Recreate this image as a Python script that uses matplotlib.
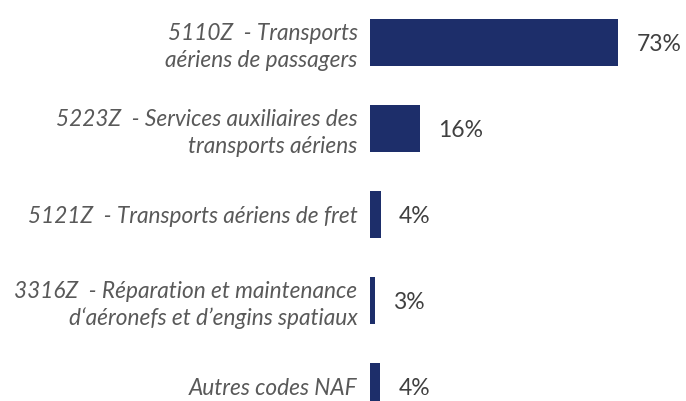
import matplotlib
matplotlib.use("Agg")
import matplotlib.pyplot as plt

# categories (top to bottom) and values
categories = [
    "5110Z  - Transports\naériens de passagers",
    "5223Z  - Services auxiliaires des\ntransports aériens",
    "5121Z  - Transports aériens de fret",
    "3316Z  - Réparation et maintenance\nd\u2018aéronefs et d\u2019engins spatiaux",
    "Autres codes NAF",
]
bar_values = [73, 14.7, 3.2, 1.5, 3.0]
value_labels = ["73%", "16%", "4%", "3%", "4%"]

BAR_COLOR = "#1d2e6a"
LABEL_COLOR = "#595959"
VALUE_COLOR = "#404040"

plt.rcParams["font.family"] = ["Lato", "DejaVu Sans"]

fig = plt.figure(figsize=(6.86, 4.01), dpi=100)
ax = fig.add_axes([370 / 686, 0, 1 - 370 / 686, 1])

pos = list(range(len(categories)))
bars = ax.barh(pos, bar_values, height=0.547, color=BAR_COLOR)

ax.set_xlim(0, 316 / 3.40)
ax.set_ylim(4.169, -0.494)

ax.set_yticks(pos)
ax.set_yticklabels(categories, fontsize=16.3, style="italic", color=LABEL_COLOR,
                   linespacing=1.3)
ax.tick_params(axis="y", length=0, pad=9)
ax.set_xticks([])
for s in ax.spines.values():
    s.set_visible(False)

for b, lab in zip(bars, value_labels):
    ax.annotate(lab, (b.get_width(), b.get_y() + b.get_height() / 2),
                xytext=(13, -1.5), textcoords="offset points",
                ha="left", va="center", fontsize=16.5, color=VALUE_COLOR)

fig.savefig("out.png", dpi=100)
